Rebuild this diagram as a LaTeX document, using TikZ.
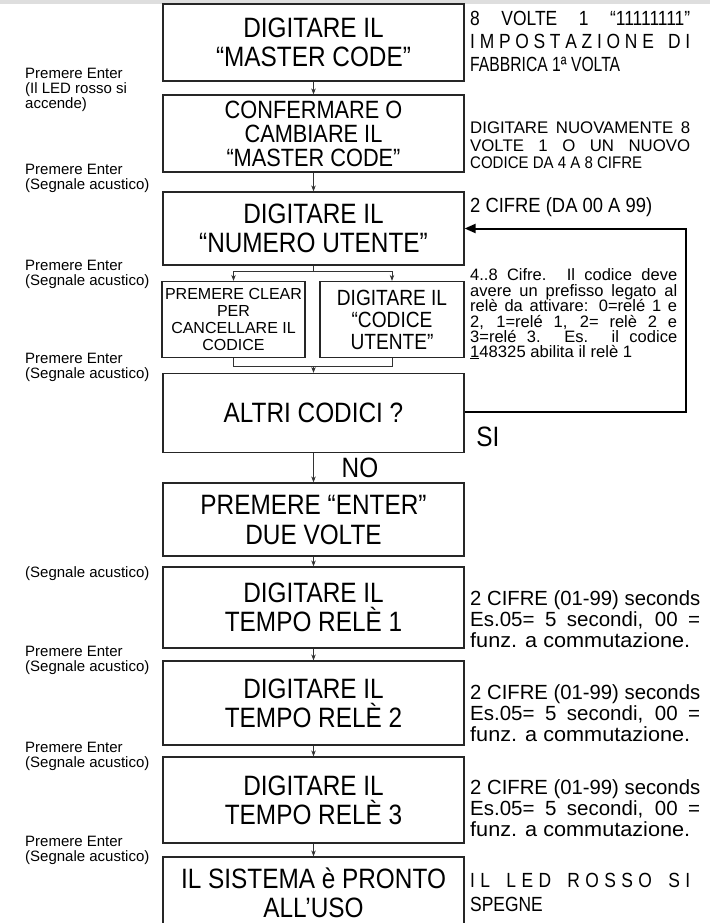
\documentclass[tikz,border=0pt]{standalone}
\usepackage{fontspec}
\usepackage{graphicx}
\setmainfont{Liberation Sans}
\newfontfamily\bxf[FakeStretch=0.87]{Liberation Sans}
\newfontfamily\ntf[FakeStretch=0.85]{Liberation Sans}
\usetikzlibrary{arrows.meta}
\newsavebox\jbox
\newcommand\jl[2]{\sbox\jbox{#2}\ifdim\wd\jbox>#1\relax\resizebox{#1}{\height}{\usebox\jbox}\else\makebox[#1][s]{#2}\fi}
\newcommand\fl[2]{\resizebox{#1}{\height}{#2}}
\tikzset{
  box/.style={draw=black!85, line width=1.2pt, minimum width=301pt, inner sep=0pt, align=center, font=\bxf\fontsize{28}{29}\selectfont},
  arr/.style={-{Stealth[length=6pt,width=4.5pt]}, line width=0.8pt, draw=black!80},
  ln/.style={line width=0.8pt, draw=black!80},
  loopline/.style={-{Triangle[length=11pt,width=9pt]}, line width=2pt, draw=black},
  lab/.style={anchor=base west, inner sep=0pt, font=\fontsize{15}{15}\selectfont},
  note/.style={anchor=base west, inner sep=0pt, font=\ntf\fontsize{20.5}{21}\selectfont},
  snote/.style={anchor=base west, inner sep=0pt, font=\fontsize{16.8}{17}\selectfont},
  tnote/.style={anchor=base west, inner sep=0pt, font=\fontsize{20.5}{21}\selectfont},
  pnote/.style={anchor=base west, inner sep=0pt, font=\fontsize{16.5}{15.4}\selectfont},
  big/.style={inner sep=0pt, font=\bxf\fontsize{28}{29}\selectfont}
}
\begin{document}
\begin{tikzpicture}[x=1pt,y=-1pt]
\useasboundingbox (0,0) rectangle (710,923);
\fill[black!13] (0,0) rectangle (710,4);

% main boxes
\node[box, minimum height=77pt] (b1) at (313.5,42.5) {DIGITARE IL\\“MASTER CODE”};
\node[box, minimum height=77pt, font=\bxf\fontsize{25}{24}\selectfont] (b2) at (313.5,133.5) {CONFERMARE O\\CAMBIARE IL\\“MASTER CODE”};
\node[box, minimum height=73pt] (b3) at (313.5,228.5) {DIGITARE IL\\“NUMERO UTENTE”};
\node[box, minimum width=143pt, minimum height=76pt, font=\fontsize{16}{17.3}\selectfont] (sl) at (233.5,319.5) {PREMERE CLEAR\\PER\\CANCELLARE IL\\CODICE};
\node[box, minimum width=144pt, minimum height=76pt, font=\bxf\fontsize{22}{22}\selectfont] (sr) at (392,319.5) {DIGITARE IL\\“CODICE\\UTENTE”};
\node[box, minimum height=79pt] (b4) at (313.5,413) {ALTRI CODICI ?};
\node[box, minimum height=73pt, font=\bxf\fontsize{28}{30}\selectfont] (b5) at (313.5,519.5) {PREMERE “ENTER”\\DUE VOLTE};
\node[box, minimum height=81pt] (b6) at (313.5,607.5) {DIGITARE IL\\TEMPO RELÈ 1};
\node[box, minimum height=84pt] (b7) at (313.5,703) {DIGITARE IL\\TEMPO RELÈ 2};
\node[box, minimum height=86pt] (b8) at (313.5,800) {DIGITARE IL\\TEMPO RELÈ 3};
\node[box, minimum height=72pt] (b9) at (313.5,893) {IL SISTEMA è PRONTO\\ALL’USO};

% connectors
\draw[arr] (b1.south) -- (b2.north);
\draw[arr] (b2.south) -- (b3.north);
\coordinate (s1) at (313.5,271);
\draw[ln] (b3.south) -- (s1);
\draw[arr] (s1) -| (sl.north);
\draw[arr] (s1) -| (sr.north);
\coordinate (m1) at (313.5,366);
\draw[ln] (sl.south) |- (m1);
\draw[ln] (sr.south) |- (m1);
\draw[arr] (m1) -- (b4.north);
\draw[arr] (b4.south) -- (b5.north);
\draw[arr] (b5.south) -- (b6.north);
\draw[arr] (b6.south) -- (b7.north);
\draw[arr] (b7.south) -- (b8.north);
\draw[arr] (b8.south) -- (b9.north);
\coordinate (lr) at (686,412);
\draw[loopline] (b4.east |- lr) -- (lr) |- (b3.east);

\node[big] (no) at (360,468) {NO};
\node[big] (si) at (488,437) {SI};

% left labels
\node[lab] (l1a) at (25,79) {Premere Enter};
\node[lab] (l1b) at (25,94) {(Il LED rosso si};
\node[lab] (l1c) at (25,109) {accende)};
\node[lab] (l2a) at (25,174) {Premere Enter};
\node[lab] (l2b) at (25,189) {(Segnale acustico)};
\node[lab] (l3a) at (25,270) {Premere Enter};
\node[lab] (l3b) at (25,285) {(Segnale acustico)};
\node[lab] (l4a) at (25,363) {Premere Enter};
\node[lab] (l4b) at (25,378) {(Segnale acustico)};
\node[lab] (l5b) at (25,577) {(Segnale acustico)};
\node[lab] (l6a) at (25,656) {Premere Enter};
\node[lab] (l6b) at (25,671) {(Segnale acustico)};
\node[lab] (l7a) at (25,752) {Premere Enter};
\node[lab] (l7b) at (25,767) {(Segnale acustico)};
\node[lab] (l8a) at (25,846) {Premere Enter};
\node[lab] (l8b) at (25,861) {(Segnale acustico)};

% right notes
\node[note] (n1a) at (470,26) {\jl{220pt}{8 VOLTE 1 “11111111”}};
\node[note] (n1b) at (470,49) {\makebox[220pt][s]{I\hfil M\hfil P\hfil O\hfil S\hfil T\hfil A\hfil Z\hfil I\hfil O\hfil N\hfil E\hfil\hfil\hfil D\hfil I}};
\node[note] (n1c) at (470,72) {\fl{150pt}{FABBRICA 1ª VOLTA}};

\node[snote] (n2a) at (470,134) {\jl{220pt}{DIGITARE NUOVAMENTE 8}};
\node[snote] (n2b) at (470,151) {\jl{220pt}{VOLTE 1 O UN NUOVO}};
\node[snote] (n2c) at (470,168) {\fl{172pt}{CODICE DA 4 A 8 CIFRE}};

\node[note] (n3) at (470,212) {\fl{182pt}{2 CIFRE (DA 00 A 99)}};

\node[pnote] (p1) at (470,280) {\jl{207pt}{4..8 Cifre. Il codice deve}};
\node[pnote] (p2) at (470,296) {\jl{207pt}{avere un prefisso legato al}};
\node[pnote] (p3) at (470,311) {\jl{207pt}{relè da attivare: 0=relé 1 e}};
\node[pnote] (p4) at (470,327) {\jl{207pt}{2, 1=relé 1, 2= relè 2 e}};
\node[pnote] (p5) at (470,342) {\jl{207pt}{3=relé 3. Es. il codice}};
\node[pnote] (p6) at (470,357) {\fl{162pt}{\underline{1}48325 abilita il relè 1}};

\node[tnote] (t1a) at (470,605) {\jl{230pt}{2 CIFRE (01-99) seconds}};
\node[tnote] (t1b) at (470,626) {\jl{230pt}{Es.05= 5 secondi, 00 =}};
\node[tnote] (t1c) at (470,647) {\fl{220pt}{funz. a commutazione.}};
\node[tnote] (t2a) at (470,699) {\jl{230pt}{2 CIFRE (01-99) seconds}};
\node[tnote] (t2b) at (470,720) {\jl{230pt}{Es.05= 5 secondi, 00 =}};
\node[tnote] (t2c) at (470,741) {\fl{220pt}{funz. a commutazione.}};
\node[tnote] (t3a) at (470,794) {\jl{230pt}{2 CIFRE (01-99) seconds}};
\node[tnote] (t3b) at (470,815) {\jl{230pt}{Es.05= 5 secondi, 00 =}};
\node[tnote] (t3c) at (470,836) {\fl{220pt}{funz. a commutazione.}};

\node[note] (n8a) at (470,887) {\makebox[220pt][s]{I\hfil L\hfil\hfil\hfil L\hfil E\hfil D\hfil\hfil\hfil R\hfil O\hfil S\hfil S\hfil O\hfil\hfil\hfil S\hfil I}};
\node[note] (n8b) at (470,911) {SPEGNE};
\end{tikzpicture}
\end{document}
